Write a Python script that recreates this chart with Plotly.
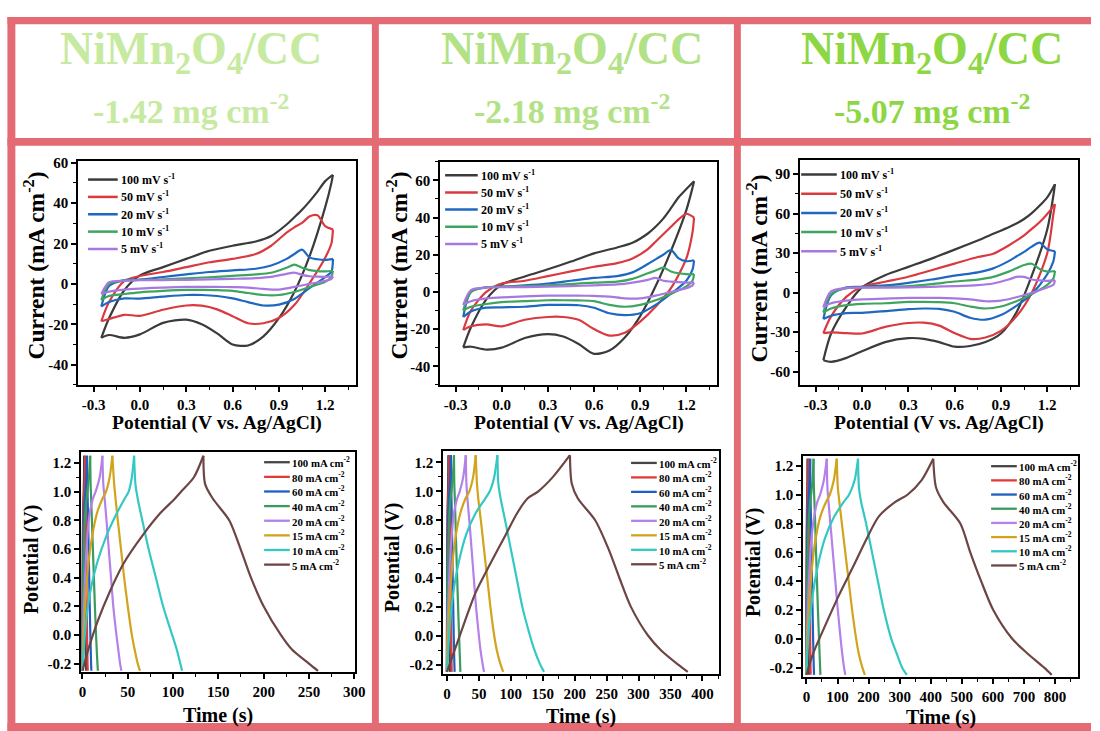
import plotly.graph_objects as go

W, H = 1100, 731
FONT = "Liberation Serif"

# ---------------- CV data (current, mA cm-2) ----------------
CV_E_FWD = [-0.25, -0.2, -0.1, 0.0, 0.15, 0.3, 0.45, 0.6, 0.75, 0.85, 0.95, 1.0, 1.05, 1.1, 1.15, 1.2, 1.25]
CV_E_REV = [1.25, 1.24, 1.2, 1.1, 1.0, 0.9, 0.8, 0.7, 0.6, 0.5, 0.4, 0.3, 0.15, 0.0, -0.1, -0.2, -0.25]
CV_LABELS = ["100 mV s<sup>-1</sup>", "50 mV s<sup>-1</sup>", "20 mV s<sup>-1</sup>",
             "10 mV s<sup>-1</sup>", "5 mV s<sup>-1</sup>"]

CV1_I_FWD = [
    [-26.7, -17, -3, 4.2, 8.3, 12.4, 16.4, 18.9, 21, 23.7, 29.4, 33, 36.7, 41, 45.7, 50.9, 54],
    [-18.5, -9, 1.5, 3.9, 5.9, 8.3, 10.7, 12.4, 14.8, 18.9, 25.4, 28, 30.2, 33.5, 34, 28.6, 27],
    [-11.2, -1, 1.9, 2.1, 3.4, 4.7, 5.9, 6.7, 7.5, 9.1, 12.4, 14.8, 17, 13, 12.2, 11.9, 12.4],
    [-8, 0, 1.6, 2, 2.3, 2.8, 3.3, 4, 4.7, 5.5, 8, 9.5, 8, 6.8, 6.3, 6.2, 6.5],
    [-5, 0.8, 1.6, 1.8, 1.9, 2, 2.2, 2.5, 2.9, 3.5, 5, 5.6, 4.5, 3.8, 3.6, 3.5, 3.8],
]
CV1_I_REV = [
    [54, 50, 38, 14, -4, -17, -26, -30.5, -30, -24.5, -20, -17.7, -19.3, -25, -26.7, -25.3, -26.7],
    [27, 20, 13, 0.5, -10.5, -16.9, -19.5, -19.5, -16, -12.6, -10.8, -10.7, -12.8, -15.8, -15.3, -17.4, -18.5],
    [12.4, 6, 3.4, -2, -7.5, -10.3, -10.7, -9, -7.2, -6, -5.5, -5.5, -6.3, -7.3, -7.2, -9, -11.2],
    [6.5, 3.5, 1, -1.5, -4, -5.5, -5.5, -4.5, -3.5, -3.1, -3, -3, -3.5, -4.2, -5, -6, -8],
    [3.8, 2.5, 1.5, 0, -1.5, -2.8, -2.5, -1.8, -1.6, -1.5, -1.5, -1.5, -1.8, -2.3, -2.8, -3.8, -5],
]
CV2_I_FWD = [
    [-29.8, -19, -4, 3.9, 8.3, 12.2, 16.3, 20.7, 23.9, 26.4, 31.4, 35, 39.4, 45, 50.9, 55.3, 59.5],
    [-20.5, -10, 0, 4.5, 6, 8.5, 11, 13.5, 15.5, 18, 23, 27, 31, 35, 39, 42, 40],
    [-13.5, 0, 2.5, 2.8, 3.5, 4.5, 6, 7.5, 8.5, 10.5, 15, 17.5, 20, 22.5, 18, 16.5, 17],
    [-10, 0, 2.5, 2.8, 3.1, 3.5, 4.2, 5, 5.5, 7, 10, 11.5, 13, 11, 10, 9.5, 9.5],
    [-7, 1, 2.3, 2.5, 2.6, 2.8, 3.1, 3.5, 4, 5, 6.5, 7.5, 6, 5.5, 5.2, 5, 5],
]
CV2_I_REV = [
    [59.5, 56, 44, 22, 3, -13, -24.5, -31.5, -33.3, -28, -24, -22.7, -24.8, -30, -31, -29.5, -29.8],
    [40, 32, 18, 2, -8, -16, -22, -23.5, -20, -15, -13.5, -13.5, -15, -18.5, -17.5, -18.5, -20.5],
    [17, 12, 6, -1, -7, -11.5, -12.5, -11.5, -8.5, -7.2, -7, -7, -8, -8.3, -8.5, -10.5, -13.5],
    [9.5, 6, 3, -1, -4.5, -7, -8, -7, -5, -4.6, -4.5, -4.5, -5, -5.5, -6.5, -8, -10],
    [5, 3.5, 2, 0, -2, -3.5, -3.5, -2.5, -2.2, -2, -2, -2, -2.4, -3, -3.5, -5, -7],
]
CV3_I_FWD = [
    [-51.3, -31, -10.5, 4, 13.3, 19.6, 25.9, 32.7, 39.7, 44.7, 49.7, 52.5, 56, 60.5, 66, 72.4, 82.4],
    [-30.7, -18, -3, 4.5, 8.3, 12.1, 17.1, 22.1, 27.1, 29.6, 35.9, 39.5, 43.5, 48.5, 53.5, 59.8, 67.3],
    [-20, -2, 4, 4.5, 5.5, 7.5, 10, 13, 15.5, 18.5, 24, 27.5, 31, 35, 38, 33, 31.5],
    [-15, -1, 3.5, 4, 4.4, 5, 6.5, 8.5, 10, 12, 16, 18.5, 21, 22, 18, 16, 16.5],
    [-11, 1, 3.5, 3.8, 3.9, 4, 4.5, 5, 5.8, 7, 10, 12, 12, 10, 9.3, 9, 9.5],
]
CV3_I_REV = [
    [82.4, 74, 48, 13, -15, -31, -37.5, -40.5, -41, -37.5, -35, -34.5, -37.5, -44.5, -49.5, -52.5, -51.3],
    [67.3, 60, 30, 0, -18, -29, -34, -35, -30.7, -25, -22.8, -23, -26, -31, -30.7, -30.2, -30.7],
    [31.5, 24, 14, -1, -10, -17, -20.5, -19, -14.5, -12.3, -12, -12.5, -14, -15.3, -15.5, -17.5, -20],
    [16.5, 11, 6, -1, -6.5, -10.5, -12, -10.5, -8, -7.2, -7, -7, -8, -8.5, -9.5, -12, -15],
    [9.5, 6, 4, 0, -3.5, -6, -6.5, -5, -4.3, -4, -4, -4, -4.5, -5, -6, -8, -11],
]

# ---------------- GCD data (time, s) ----------------
GCD_V_CHG = [-0.25, -0.1, 0.1, 0.3, 0.5, 0.7, 0.85, 0.95, 1.0, 1.1, 1.25]
GCD_V_DIS = [1.25, 1.05, 0.95, 0.8, 0.6, 0.4, 0.2, 0.0, -0.1, -0.2, -0.25]
GCD_LABELS = ["100 mA cm<sup>-2</sup>", "80 mA cm<sup>-2</sup>", "60 mA cm<sup>-2</sup>",
              "40 mA cm<sup>-2</sup>", "20 mA cm<sup>-2</sup>", "15 mA cm<sup>-2</sup>",
              "10 mA cm<sup>-2</sup>", "5 mA cm<sup>-2</sup>"]

GCD1_T_CHG = [
    [0, 0.03, 0.08, 0.15, 0.25, 0.4, 0.65, 1.0, 1.3, 1.7, 2.0],
    [0, 0.05, 0.1, 0.2, 0.35, 0.6, 1.0, 1.5, 1.9, 2.5, 3.0],
    [0, 0.05, 0.15, 0.35, 0.6, 1.1, 1.7, 2.6, 3.3, 4.3, 5.0],
    [0, 0.1, 0.3, 0.7, 1.2, 2.0, 3.0, 4.5, 5.5, 7.2, 8.5],
    [0, 0.3, 1.0, 2.2, 3.5, 5.5, 8, 11.5, 14.5, 19, 22],
    [0, 0.5, 2, 4, 6.5, 11, 16, 22, 26, 30, 33],
    [0, 1.5, 4, 8.5, 16, 27, 38, 46.5, 51, 54.5, 57],
    [0, 6.5, 17, 30, 45.5, 67, 86, 102, 109, 123, 133.5],
]
GCD1_T_DIS = [
    [2.0, 2.1, 2.25, 2.45, 2.7, 2.95, 3.2, 3.45, 3.6, 3.8, 3.9],
    [3.0, 3.2, 3.4, 3.7, 4.0, 4.4, 4.7, 5.1, 5.3, 5.6, 5.8],
    [5.0, 5.3, 5.7, 6.2, 6.8, 7.4, 8.0, 8.7, 9.1, 9.5, 9.8],
    [8.5, 9.0, 9.6, 10.4, 11.5, 12.6, 13.7, 15.0, 15.7, 16.5, 17],
    [22, 23, 24.5, 26.5, 29, 31.5, 34, 37.5, 39.5, 41.5, 43],
    [33, 35, 36.5, 39, 42.5, 46, 50, 54.5, 57.5, 61, 63.5],
    [57, 58.5, 61, 66, 73, 81, 89, 99, 104, 108, 110],
    [133.5, 135.5, 144, 162, 174.5, 186, 200, 219, 231, 250, 260],
]
GCD2_T_CHG = [
    [0, 0.03, 0.1, 0.2, 0.35, 0.55, 0.85, 1.3, 1.65, 2.1, 2.5],
    [0, 0.05, 0.15, 0.3, 0.5, 0.85, 1.3, 2.0, 2.5, 3.3, 3.9],
    [0, 0.08, 0.2, 0.45, 0.8, 1.4, 2.1, 3.2, 4.0, 5.3, 6.2],
    [0, 0.15, 0.4, 0.9, 1.5, 2.6, 3.8, 5.6, 7, 9.2, 11],
    [0, 0.4, 1.3, 2.8, 4.5, 7.5, 11, 16, 20, 25.5, 29.5],
    [0, 0.6, 2.5, 5, 8.5, 14, 21, 29, 35, 41, 45],
    [0, 2, 5, 10, 18, 30, 45, 60, 67, 74, 79],
    [0, 12, 28, 45, 68, 92, 110, 126, 143, 166, 192.5],
]
GCD2_T_DIS = [
    [2.5, 2.65, 2.85, 3.1, 3.4, 3.7, 4.0, 4.3, 4.5, 4.7, 4.9],
    [3.9, 4.1, 4.4, 4.8, 5.2, 5.7, 6.1, 6.6, 6.9, 7.2, 7.5],
    [6.2, 6.5, 7.0, 7.6, 8.3, 9.0, 9.8, 10.6, 11.1, 11.6, 12],
    [11, 11.5, 12.3, 13.3, 14.6, 16, 17.4, 19, 19.8, 20.6, 21],
    [29.5, 30.5, 32, 35, 38.5, 42, 45.5, 50, 52.5, 56, 58],
    [45, 47, 49, 53, 58, 63, 68, 74, 78, 84, 88],
    [79, 80.5, 84, 91, 100, 109, 118, 130, 137, 146, 152],
    [192.5, 195.5, 205, 232, 253, 270, 288, 315, 335, 362, 377],
]
GCD3_T_CHG = [
    [0, 0.05, 0.15, 0.3, 0.55, 0.9, 1.4, 2.1, 2.6, 3.4, 4],
    [0, 0.08, 0.25, 0.55, 0.95, 1.6, 2.4, 3.6, 4.5, 5.9, 7],
    [0, 0.15, 0.45, 1.0, 1.7, 2.9, 4.3, 6.3, 7.8, 10.2, 12],
    [0, 0.3, 0.9, 2, 3.3, 5.5, 8.2, 12, 15, 19.5, 23],
    [0, 0.8, 2.8, 6, 10, 16.5, 25, 35, 44, 56, 65.5],
    [0, 1.3, 5, 11, 18, 30, 45, 63, 75, 88, 97.5],
    [0, 3, 9, 20, 36, 60, 90, 120, 137, 155, 166],
    [0, 22, 62, 104, 150, 195, 233, 286, 325, 370, 408],
]
GCD3_T_DIS = [
    [4, 4.2, 4.5, 4.9, 5.4, 5.9, 6.4, 6.9, 7.2, 7.6, 7.8],
    [7, 7.4, 7.9, 8.6, 9.5, 10.3, 11.2, 12.1, 12.6, 13.2, 13.6],
    [12, 12.6, 13.5, 14.8, 16.4, 18, 19.7, 21.5, 22.6, 23.6, 24.5],
    [23, 24, 25.8, 28.2, 31, 34, 37, 40.5, 42.3, 44, 45],
    [65.5, 67.5, 71, 77, 85, 93, 101, 110, 115, 121, 125],
    [97.5, 101, 106, 114, 125, 136, 147, 160, 168, 180, 188],
    [166, 169, 176, 192, 211, 230, 249, 273, 290, 308, 323],
    [408, 417, 440, 495, 527, 562, 601, 662, 710, 765, 789],
]

# ---------------- tick labels ----------------
CV_X_TICKS = [-0.3, 0.0, 0.3, 0.6, 0.9, 1.2]
CV_X_TEXT = ["-0.3", "0.0", "0.3", "0.6", "0.9", "1.2"]
CV12_Y_TICKS = [-40, -20, 0, 20, 40, 60]
CV12_Y_TEXT = ["-40", "-20", "0", "20", "40", "60"]
CV3_Y_TICKS = [-60, -30, 0, 30, 60, 90]
CV3_Y_TEXT = ["-60", "-30", "0", "30", "60", "90"]
GCD_Y_TICKS = [-0.2, 0.0, 0.2, 0.4, 0.6, 0.8, 1.0, 1.2]
GCD_Y_TEXT = ["-0.2", "0.0", "0.2", "0.4", "0.6", "0.8", "1.0", "1.2"]
GCD1_X_TICKS = [0, 50, 100, 150, 200, 250, 300]
GCD2_X_TICKS = [0, 50, 100, 150, 200, 250, 300, 350, 400]
GCD3_X_TICKS = [0, 100, 200, 300, 400, 500, 600, 700, 800]

HEAD_TITLE = "NiMn<sub>2</sub>O<sub>4</sub>/CC"
HEAD_LOADINGS = ["-1.42 mg cm<sup>-2</sup>", "-2.18 mg cm<sup>-2</sup>", "-5.07 mg cm<sup>-2</sup>"]

CV_COLORS = ["#3b3b3b", "#d93a40", "#1f68c1", "#3ea55f", "#a878e0"]
GCD_COLORS = ["#454545", "#e03b3b", "#1f5fc0", "#3b9a5c", "#b580e8", "#d2a31c", "#33c8c4", "#6e4545"]
HEAD_COLORS = ["#c6eaa0", "#b2e285", "#8ed744"]
BORDER = "#e46a73"


def px(x):
    return x / W


def py(y):
    return 1 - y / H


def b(s):
    return "<b>" + s + "</b>"


fig = go.Figure()

# ---- CV traces ----
cv_sets = [(CV1_I_FWD, CV1_I_REV, "x", "y"), (CV2_I_FWD, CV2_I_REV, "x2", "y2"),
           (CV3_I_FWD, CV3_I_REV, "x3", "y3")]
for fwd, rev, xa, ya in cv_sets:
    for i, col in enumerate(CV_COLORS):
        for ex, iy in ((CV_E_FWD, fwd[i]), (CV_E_REV, rev[i])):
            fig.add_trace(go.Scatter(x=ex, y=iy, mode="lines", xaxis=xa, yaxis=ya,
                                     line=dict(color=col, width=2.2, shape="spline", smoothing=0.8),
                                     showlegend=False, hoverinfo="skip"))

# ---- GCD traces ----
gcd_sets = [(GCD1_T_CHG, GCD1_T_DIS, "x4", "y4"), (GCD2_T_CHG, GCD2_T_DIS, "x5", "y5"),
            (GCD3_T_CHG, GCD3_T_DIS, "x6", "y6")]
for chg, dis, xa, ya in gcd_sets:
    for i, col in enumerate(GCD_COLORS):
        for tx, vy in ((chg[i], GCD_V_CHG), (dis[i], GCD_V_DIS)):
            fig.add_trace(go.Scatter(x=tx, y=vy, mode="lines", xaxis=xa, yaxis=ya,
                                     line=dict(color=col, width=2.2, shape="spline", smoothing=0.8),
                                     showlegend=False, hoverinfo="skip"))


def axis(dom, rng, tickvals, ticktext, minor_dtick, anchor):
    return dict(domain=dom, range=rng, anchor=anchor, tickmode="array", tickvals=tickvals,
                ticktext=[b(t) for t in ticktext], showline=True, linecolor="black",
                linewidth=1.8, mirror=True, ticks="outside", ticklen=5, tickwidth=1.6,
                tickcolor="black", showgrid=False, zeroline=False, fixedrange=True,
                tickfont=dict(family=FONT, size=15, color="black"),
                minor=dict(tickmode="linear", tick0=0, dtick=minor_dtick, ticks="outside",
                           ticklen=3, tickwidth=1.3, tickcolor="black", showgrid=False))


# plot rectangles in pixels: (x0, x1, ytop, ybottom)
R = {
    1: (77, 358, 156, 382), 2: (443, 723, 157, 382), 3: (807, 1088, 155, 382),
    4: (80, 357, 450, 672), 5: (446, 725, 449, 674), 6: (810, 1088, 454, 677),
}


def xd(k):
    return [px(R[k][0]), px(R[k][1])]


def yd(k):
    return [py(R[k][3]), py(R[k][2])]


fig.update_layout(
    xaxis=axis(xd(1), [-0.4, 1.4], CV_X_TICKS, CV_X_TEXT, 0.15, "y"),
    yaxis=axis(yd(1), [-50, 61], CV12_Y_TICKS, CV12_Y_TEXT, 10, "x"),
    xaxis2=axis(xd(2), [-0.4, 1.4], CV_X_TICKS, CV_X_TEXT, 0.15, "y2"),
    yaxis2=axis(yd(2), [-50, 70], CV12_Y_TICKS, CV12_Y_TEXT, 10, "x2"),
    xaxis3=axis(xd(3), [-0.4, 1.4], CV_X_TICKS, CV_X_TEXT, 0.15, "y3"),
    yaxis3=axis(yd(3), [-70, 101], CV3_Y_TICKS, CV3_Y_TEXT, 15, "x3"),
    xaxis4=axis(xd(4), [-1.5, 301], GCD1_X_TICKS, [str(v) for v in GCD1_X_TICKS], 25, "y4"),
    yaxis4=axis(yd(4), [-0.262, 1.274], GCD_Y_TICKS, GCD_Y_TEXT, 0.1, "x4"),
    xaxis5=axis(xd(5), [-6, 426], GCD2_X_TICKS, [str(v) for v in GCD2_X_TICKS], 25, "y5"),
    yaxis5=axis(yd(5), [-0.268, 1.277], GCD_Y_TICKS, GCD_Y_TEXT, 0.1, "x5"),
    xaxis6=axis(xd(6), [-10.5, 874], GCD3_X_TICKS, [str(v) for v in GCD3_X_TICKS], 50, "y6"),
    yaxis6=axis(yd(6), [-0.268, 1.267], GCD_Y_TICKS, GCD_Y_TEXT, 0.1, "x6"),
)

shapes = []
annotations = []

# ---- frame (pink borders) ----
bands = [
    (5.5, 1101, 11, 18.5),      # top
    (5.5, 1101, 133, 141),      # header divider
    (5.5, 1101, 723, 732),      # bottom
    (5.5, 13.5, 11, 732),       # left
    (374, 381, 11, 732),        # divider 1
    (740, 747, 11, 732),        # divider 2
]
for x0, x1, y0, y1 in bands:
    shapes.append(dict(type="rect", xref="paper", yref="paper", x0=px(x0), x1=px(x1),
                       y0=py(y1), y1=py(y0), fillcolor=BORDER, line=dict(width=0), layer="below"))

# ---- headers ----
head_cx = [191, 576, 940]
for k in range(3):
    annotations.append(dict(x=px(head_cx[k]), y=py(46), xref="paper", yref="paper",
                            text=b(HEAD_TITLE), showarrow=False, xanchor="center", yanchor="middle",
                            font=dict(family=FONT, size=46, color=HEAD_COLORS[k])))
    annotations.append(dict(x=px(head_cx[k]), y=py(104), xref="paper", yref="paper",
                            text=b(HEAD_LOADINGS[k]), showarrow=False, xanchor="center",
                            yanchor="middle", font=dict(family=FONT, size=34, color=HEAD_COLORS[k])))


# ---- axis titles ----
def title(x, y, text, size, angle=0):
    annotations.append(dict(x=px(x), y=py(y), xref="paper", yref="paper", text=b(text),
                            showarrow=False, xanchor="center", yanchor="middle", textangle=angle,
                            font=dict(family=FONT, size=size, color="black")))


for cx in (217.5, 583, 947.5):
    title(cx, 420, "Potential (V vs. Ag/AgCl)", 19.5)
for cx, cy in ((32, 262), (399, 262), (763, 265)):
    title(cx, cy, "Current (mA cm<sup>-2</sup>)", 23.5, -90)
for cx, cy in ((218.5, 715), (585.5, 716), (949, 717)):
    title(cx, cy, "Time (s)", 20)
for cx, cy in ((30, 558), (395, 556), (760, 561)):
    title(cx, cy, "Potential (V)", 20, -90)

# ---- legends (line sample + text) ----
cv_leg = [(87, 117, 175, 17.5), (448, 481, 170.7, 17.3), (808, 844, 170, 19.3)]
gcd_leg = [(265, 291, 460, 14.75), (636, 662, 460.7, 14.6), (1000, 1026, 464, 14.3)]
for x0, x1, yf, step in cv_leg:
    for i, lab in enumerate(CV_LABELS):
        yy = yf + i * step
        shapes.append(dict(type="line", xref="paper", yref="paper", x0=px(x0), x1=px(x1),
                           y0=py(yy), y1=py(yy), line=dict(color=CV_COLORS[i], width=2.5)))
        annotations.append(dict(x=px(x1 + 1), y=py(yy), xref="paper", yref="paper", text=b(lab),
                                showarrow=False, xanchor="left", yanchor="middle",
                                font=dict(family=FONT, size=12, color="black")))
for x0, x1, yf, step in gcd_leg:
    for i, lab in enumerate(GCD_LABELS):
        yy = yf + i * step
        shapes.append(dict(type="line", xref="paper", yref="paper", x0=px(x0), x1=px(x1),
                           y0=py(yy), y1=py(yy), line=dict(color=GCD_COLORS[i], width=2.3)))
        annotations.append(dict(x=px(x1 + 0.5), y=py(yy), xref="paper", yref="paper", text=b(lab),
                                showarrow=False, xanchor="left", yanchor="middle",
                                font=dict(family=FONT, size=10.8, color="black")))

fig.update_layout(width=W, height=H, margin=dict(l=0, r=0, t=0, b=0),
                  paper_bgcolor="white", plot_bgcolor="white", showlegend=False,
                  shapes=shapes, annotations=annotations)

fig.write_html("out.html")
